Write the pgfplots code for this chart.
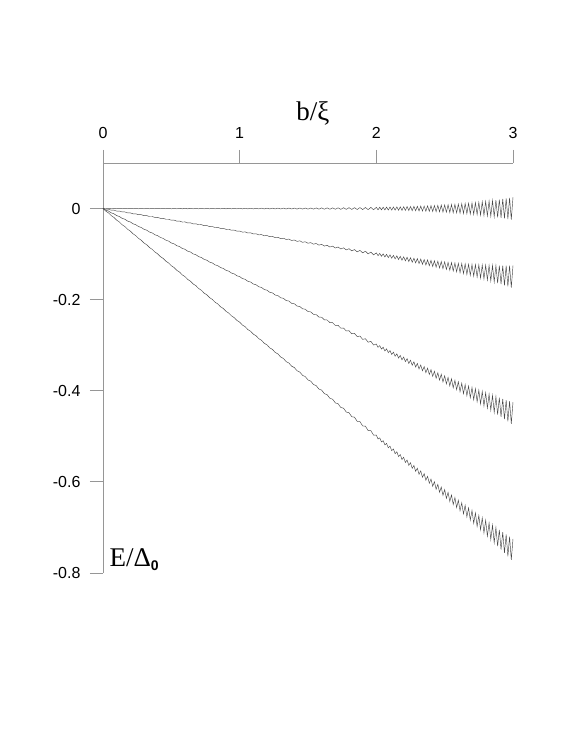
\documentclass[border=0pt]{standalone}
\usepackage{fontspec}
\setmainfont{Liberation Serif}
\setsansfont{Liberation Sans}
\usepackage{pgfplots}
\usepackage{pgfplotstable}
\pgfplotsset{compat=1.18}
\definecolor{axisgray}{RGB}{150,150,150}
\definecolor{curvecol}{RGB}{70,70,70}
\pgfplotstableread{
x y1 y2 y3 y4
0.00 0 0 0 0
0.02 -0.0005 -0.0015 -0.0035 -0.0055
0.04 0.0005 -0.0015 -0.0055 -0.0095
0.06 -0.0005 -0.0035 -0.0095 -0.0155
0.08 0.0005 -0.0035 -0.0115 -0.0195
0.10 -0.0005 -0.0055 -0.0155 -0.0255
0.12 0.0005 -0.0055 -0.0175 -0.0295
0.14 -0.0005 -0.0075 -0.0215 -0.0355
0.16 0.0005 -0.0075 -0.0235 -0.0395
0.18 -0.0005 -0.0095 -0.0275 -0.0455
0.20 0.0005 -0.0095 -0.0295 -0.0495
0.22 -0.0005 -0.0115 -0.0335 -0.0555
0.24 0.0005 -0.0115 -0.0355 -0.0595
0.26 -0.0005 -0.0135 -0.0395 -0.0655
0.28 0.0005 -0.0135 -0.0415 -0.0695
0.30 -0.0005 -0.0155 -0.0455 -0.0755
0.32 0.0005 -0.0155 -0.0475 -0.0795
0.34 -0.0005 -0.0175 -0.0515 -0.0855
0.36 0.0005 -0.0175 -0.0535 -0.0895
0.38 -0.0005 -0.0195 -0.0575 -0.0955
0.40 0.0005 -0.0195 -0.0595 -0.0995
0.42 -0.0005 -0.0215 -0.0635 -0.1055
0.44 0.0005 -0.0215 -0.0655 -0.1095
0.46 -0.0005 -0.0235 -0.0695 -0.1155
0.48 0.0005 -0.0235 -0.0715 -0.1195
0.50 -0.0006 -0.0256 -0.0756 -0.1256
0.52 0.0006 -0.0254 -0.0774 -0.1294
0.54 -0.0006 -0.0276 -0.0816 -0.1356
0.56 0.0006 -0.0274 -0.0834 -0.1394
0.58 -0.0006 -0.0296 -0.0876 -0.1456
0.60 0.0006 -0.0294 -0.0894 -0.1494
0.62 -0.0006 -0.0316 -0.0936 -0.1556
0.64 0.0006 -0.0314 -0.0954 -0.1594
0.66 -0.0006 -0.0336 -0.0996 -0.1656
0.68 0.0006 -0.0334 -0.1014 -0.1694
0.70 -0.0006 -0.0356 -0.1056 -0.1756
0.72 0.0006 -0.0354 -0.1074 -0.1794
0.74 -0.0006 -0.0376 -0.1116 -0.1856
0.76 0.0006 -0.0374 -0.1134 -0.1894
0.78 -0.0006 -0.0396 -0.1176 -0.1956
0.80 0.0006 -0.0394 -0.1194 -0.1994
0.82 -0.0006 -0.0416 -0.1236 -0.2056
0.84 0.0006 -0.0414 -0.1254 -0.2094
0.86 -0.0006 -0.0436 -0.1296 -0.2156
0.88 0.0006 -0.0434 -0.1314 -0.2194
0.90 -0.0006 -0.0456 -0.1356 -0.2256
0.92 0.0006 -0.0454 -0.1374 -0.2294
0.94 -0.0006 -0.0476 -0.1416 -0.2356
0.96 0.0006 -0.0474 -0.1434 -0.2394
0.98 -0.0006 -0.0496 -0.1476 -0.2456
1.00 0.0007 -0.0493 -0.1493 -0.2493
1.02 -0.0007 -0.0517 -0.1537 -0.2557
1.04 0.0007 -0.0513 -0.1553 -0.2593
1.06 -0.0007 -0.0537 -0.1597 -0.2657
1.08 0.0007 -0.0533 -0.1613 -0.2693
1.10 -0.0007 -0.0557 -0.1657 -0.2757
1.12 0.0007 -0.0553 -0.1673 -0.2793
1.14 -0.0007 -0.0577 -0.1717 -0.2857
1.16 0.0008 -0.0572 -0.1732 -0.2892
1.18 -0.0008 -0.0598 -0.1778 -0.2958
1.20 0.0008 -0.0592 -0.1792 -0.2992
1.22 -0.0008 -0.0618 -0.1838 -0.3058
1.24 0.0008 -0.0612 -0.1852 -0.3092
1.26 -0.0008 -0.0638 -0.1898 -0.3158
1.28 0.0009 -0.0631 -0.1911 -0.3191
1.30 -0.0009 -0.0659 -0.1959 -0.3259
1.32 0.0009 -0.0651 -0.1971 -0.3291
1.34 -0.0009 -0.0679 -0.2019 -0.3359
1.36 0.0010 -0.0670 -0.2030 -0.3390
1.38 -0.0010 -0.0700 -0.2080 -0.3460
1.40 0.0010 -0.0690 -0.2090 -0.3490
1.42 -0.0011 -0.0721 -0.2141 -0.3561
1.44 0.0011 -0.0709 -0.2149 -0.3589
1.46 -0.0011 -0.0741 -0.2201 -0.3661
1.48 0.0011 -0.0729 -0.2209 -0.3689
1.50 -0.0012 -0.0762 -0.2262 -0.3762
1.52 0.0012 -0.0748 -0.2268 -0.3788
1.54 -0.0012 -0.0782 -0.2322 -0.3862
1.56 0.0013 -0.0767 -0.2327 -0.3887
1.58 -0.0013 -0.0803 -0.2383 -0.3963
1.60 0.0014 -0.0786 -0.2386 -0.3986
1.62 -0.0014 -0.0824 -0.2444 -0.4064
1.64 0.0014 -0.0806 -0.2446 -0.4086
1.66 -0.0015 -0.0845 -0.2505 -0.4165
1.68 0.0015 -0.0825 -0.2505 -0.4185
1.70 -0.0016 -0.0866 -0.2566 -0.4266
1.72 0.0016 -0.0844 -0.2564 -0.4284
1.74 -0.0017 -0.0887 -0.2627 -0.4367
1.76 0.0018 -0.0862 -0.2622 -0.4382
1.78 -0.0018 -0.0908 -0.2688 -0.4468
1.80 0.0019 -0.0881 -0.2681 -0.4481
1.82 -0.0019 -0.0929 -0.2749 -0.4569
1.84 0.0020 -0.0900 -0.2740 -0.4580
1.86 -0.0021 -0.0951 -0.2811 -0.4671
1.88 0.0022 -0.0918 -0.2798 -0.4678
1.90 -0.0022 -0.0972 -0.2872 -0.4772
1.92 0.0023 -0.0937 -0.2857 -0.4777
1.94 -0.0024 -0.0994 -0.2934 -0.4874
1.96 0.0025 -0.0955 -0.2915 -0.4875
1.98 -0.0026 -0.1016 -0.2996 -0.4976
2.0000 0.0027 -0.0973 -0.2973 -0.4973
2.0125 -0.0028 -0.1034 -0.3047 -0.5059
2.0250 0.0029 -0.0984 -0.3009 -0.5034
2.0375 -0.0029 -0.1048 -0.3085 -0.5123
2.0500 0.0030 -0.0995 -0.3045 -0.5095
2.0625 -0.0031 -0.1062 -0.3125 -0.5187
2.0750 0.0032 -0.1006 -0.3081 -0.5156
2.0875 -0.0032 -0.1076 -0.3163 -0.5251
2.1000 0.0033 -0.1017 -0.3117 -0.5217
2.1125 -0.0034 -0.1090 -0.3203 -0.5315
2.1250 0.0035 -0.1028 -0.3153 -0.5278
2.1375 -0.0036 -0.1105 -0.3242 -0.5380
2.1500 0.0037 -0.1038 -0.3188 -0.5338
2.1625 -0.0038 -0.1119 -0.3282 -0.5444
2.1750 0.0039 -0.1049 -0.3224 -0.5399
2.1875 -0.0040 -0.1134 -0.3321 -0.5509
2.2000 0.0041 -0.1059 -0.3259 -0.5459
2.2125 -0.0042 -0.1148 -0.3361 -0.5573
2.2250 0.0043 -0.1070 -0.3295 -0.5520
2.2375 -0.0044 -0.1163 -0.3400 -0.5638
2.2500 0.0045 -0.1080 -0.3330 -0.5580
2.2625 -0.0047 -0.1178 -0.3441 -0.5703
2.2750 0.0048 -0.1090 -0.3365 -0.5640
2.2875 -0.0049 -0.1193 -0.3480 -0.5768
2.3000 0.0051 -0.1099 -0.3399 -0.5699
2.3125 -0.0052 -0.1208 -0.3521 -0.5833
2.3250 0.0053 -0.1110 -0.3435 -0.5760
2.3375 -0.0055 -0.1224 -0.3561 -0.5899
2.3500 0.0056 -0.1119 -0.3469 -0.5819
2.3625 -0.0058 -0.1239 -0.3602 -0.5964
2.3750 0.0060 -0.1128 -0.3503 -0.5878
2.3875 -0.0061 -0.1255 -0.3642 -0.6030
2.4000 0.0063 -0.1137 -0.3537 -0.5937
2.4125 -0.0065 -0.1271 -0.3684 -0.6096
2.4250 0.0067 -0.1146 -0.3571 -0.5996
2.4375 -0.0069 -0.1288 -0.3725 -0.6163
2.4500 0.0070 -0.1155 -0.3605 -0.6055
2.4625 -0.0072 -0.1303 -0.3766 -0.6228
2.4750 0.0075 -0.1163 -0.3638 -0.6113
2.4875 -0.0077 -0.1321 -0.3808 -0.6296
2.5000 0.0079 -0.1171 -0.3671 -0.6171
2.5125 -0.0081 -0.1337 -0.3850 -0.6362
2.5250 0.0083 -0.1180 -0.3705 -0.6230
2.5375 -0.0086 -0.1355 -0.3892 -0.6430
2.5500 0.0088 -0.1187 -0.3737 -0.6287
2.5625 -0.0091 -0.1372 -0.3935 -0.6497
2.5750 0.0093 -0.1195 -0.3770 -0.6345
2.5875 -0.0096 -0.1390 -0.3977 -0.6565
2.6000 0.0099 -0.1201 -0.3801 -0.6401
2.6125 -0.0102 -0.1408 -0.4021 -0.6633
2.6250 0.0105 -0.1208 -0.3833 -0.6458
2.6375 -0.0108 -0.1427 -0.4064 -0.6702
2.6500 0.0111 -0.1214 -0.3864 -0.6514
2.6625 -0.0114 -0.1445 -0.4108 -0.6770
2.6750 0.0117 -0.1221 -0.3896 -0.6571
2.6875 -0.0121 -0.1465 -0.4152 -0.6840
2.7000 0.0124 -0.1226 -0.3926 -0.6626
2.7125 -0.0128 -0.1484 -0.4197 -0.6909
2.7250 0.0132 -0.1231 -0.3956 -0.6681
2.7375 -0.0135 -0.1504 -0.4241 -0.6979
2.7500 0.0139 -0.1236 -0.3986 -0.6736
2.7625 -0.0144 -0.1525 -0.4288 -0.7050
2.7750 0.0148 -0.1240 -0.4015 -0.6790
2.7875 -0.0152 -0.1546 -0.4333 -0.7121
2.8000 0.0157 -0.1243 -0.4043 -0.6843
2.8125 -0.0161 -0.1567 -0.4380 -0.7192
2.8250 0.0166 -0.1247 -0.4072 -0.6897
2.8375 -0.0171 -0.1590 -0.4427 -0.7265
2.8500 0.0176 -0.1249 -0.4099 -0.6949
2.8625 -0.0181 -0.1612 -0.4475 -0.7337
2.8750 0.0187 -0.1251 -0.4126 -0.7001
2.8875 -0.0192 -0.1636 -0.4523 -0.7411
2.9000 0.0198 -0.1252 -0.4152 -0.7052
2.9125 -0.0204 -0.1660 -0.4573 -0.7485
2.9250 0.0210 -0.1253 -0.4178 -0.7103
2.9375 -0.0216 -0.1685 -0.4622 -0.7560
2.9500 0.0222 -0.1253 -0.4203 -0.7153
2.9625 -0.0229 -0.1710 -0.4673 -0.7635
2.9750 0.0236 -0.1252 -0.4227 -0.7202
2.9875 -0.0243 -0.1737 -0.4724 -0.7712
3.0000 0.0250 -0.1250 -0.4250 -0.7250
}\curves
\begin{document}
\begin{tikzpicture}
\path[use as bounding box] (0,0) rectangle (581pt,752pt);
\begin{axis}[
  at={(103pt,179pt)}, anchor=south west,
  width=410pt, height=410pt, scale only axis,
  xmin=0, xmax=3, ymin=-0.8, ymax=0.1,
  axis x line*=top, axis y line*=left,
  axis line style={-, draw=axisgray, line width=0.8pt},
  xtick={0,1,2,3}, xticklabels={0,1,2,3},
  ytick={-0.8,-0.6,-0.4,-0.2,0}, yticklabels={-0.8,-0.6,-0.4,-0.2,0},
  tick align=outside, major tick length=13pt,
  tick style={draw=axisgray, line width=0.8pt},
  ticklabel style={font=\sffamily\fontsize{16}{16}\selectfont},
  xticklabel style={yshift=8pt},
  yticklabel style={xshift=-6pt},
  clip=false,
]
\addplot[curvecol, line width=0.45pt] table[x=x, y=y1] {\curves};
\addplot[curvecol, line width=0.45pt] table[x=x, y=y2] {\curves};
\addplot[curvecol, line width=0.45pt] table[x=x, y=y3] {\curves};
\addplot[curvecol, line width=0.45pt] table[x=x, y=y4] {\curves};
\node[anchor=base, font=\fontsize{27}{27}\selectfont] at (rel axis cs:0.512,1) [yshift=42pt] {b/ξ};
\node[anchor=base west, font=\fontsize{27}{27}\selectfont] at (rel axis cs:0,0) [xshift=3pt, yshift=6pt] {E/Δ\raisebox{-0.3ex}{\sffamily\bfseries\fontsize{14}{14}\selectfont 0}};
\end{axis}
\end{tikzpicture}
\end{document}
